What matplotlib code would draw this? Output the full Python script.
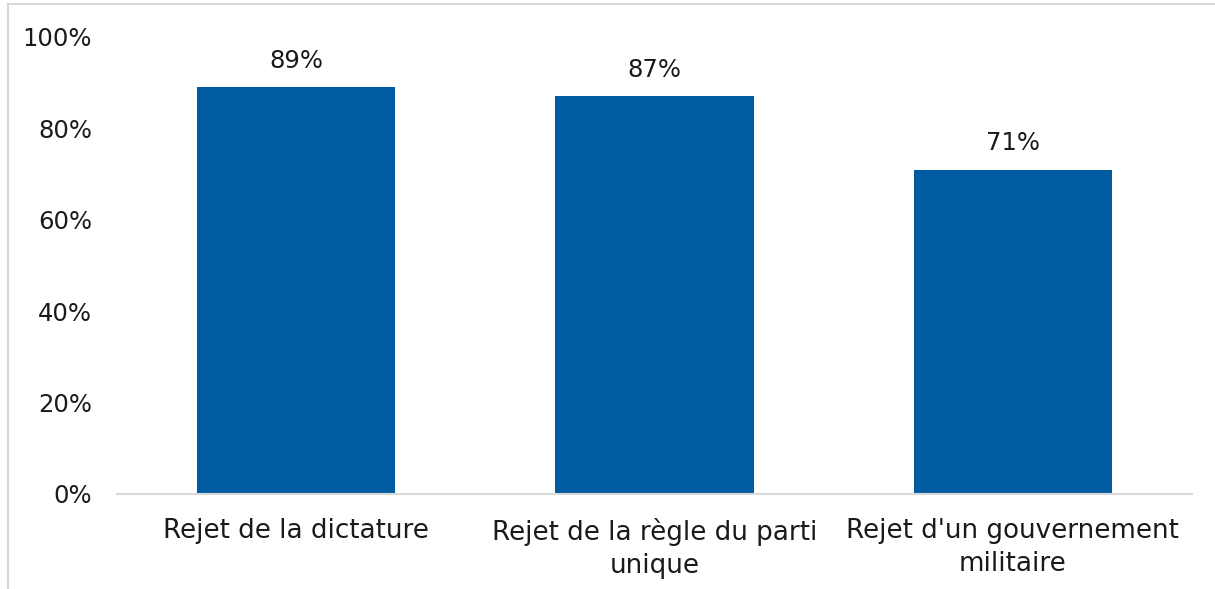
import matplotlib.pyplot as plt
from matplotlib.lines import Line2D

categories = ["Rejet de la dictature", "Rejet de la règle du parti\nunique", "Rejet d'un gouvernement\nmilitaire"]
values = [89, 87, 71]
yticks = [0, 20, 40, 60, 80, 100]

plt.rcParams['font.family'] = ['DejaVu Sans']

fig = plt.figure(figsize=(12.15, 5.89), dpi=100)
ax = fig.add_axes([0.0963, 0.1613, 0.8847, 0.7759])

x = range(len(categories))
ax.bar(x, [v / 100 for v in values], width=0.553, color="#005BA1")
for i, v in zip(x, values):
    ax.text(i, v / 100 + 0.032, f"{v}%", ha="center", va="bottom", fontsize=17.5, color="#1A1A1A")

ax.set_xlim(-0.5, 2.5)
ax.set_ylim(0, 1)
ax.set_yticks([t / 100 for t in yticks])
ax.set_yticklabels([f"{t}%" for t in yticks], fontsize=17.5, color="#1A1A1A")
ax.set_xticks(list(x))
ax.set_xticklabels(categories, fontsize=18.8, color="#1A1A1A", linespacing=1.32)
ax.tick_params(axis="both", length=0)
ax.tick_params(axis="y", pad=18)
ax.tick_params(axis="x", pad=17.5)
for s in ["top", "right", "left"]:
    ax.spines[s].set_visible(False)
ax.spines["bottom"].set_color("#D9D9D9")
ax.spines["bottom"].set_linewidth(1.5)

# chart frame (left and top edges visible)
fig.add_artist(Line2D([8 / 1215, 8 / 1215], [0, 1 - 4 / 589], color="#D9D9D9", lw=1.5, transform=fig.transFigure))
fig.add_artist(Line2D([8 / 1215, 1], [1 - 4 / 589, 1 - 4 / 589], color="#D9D9D9", lw=1.5, transform=fig.transFigure))

fig.savefig("out.png", dpi=100)
